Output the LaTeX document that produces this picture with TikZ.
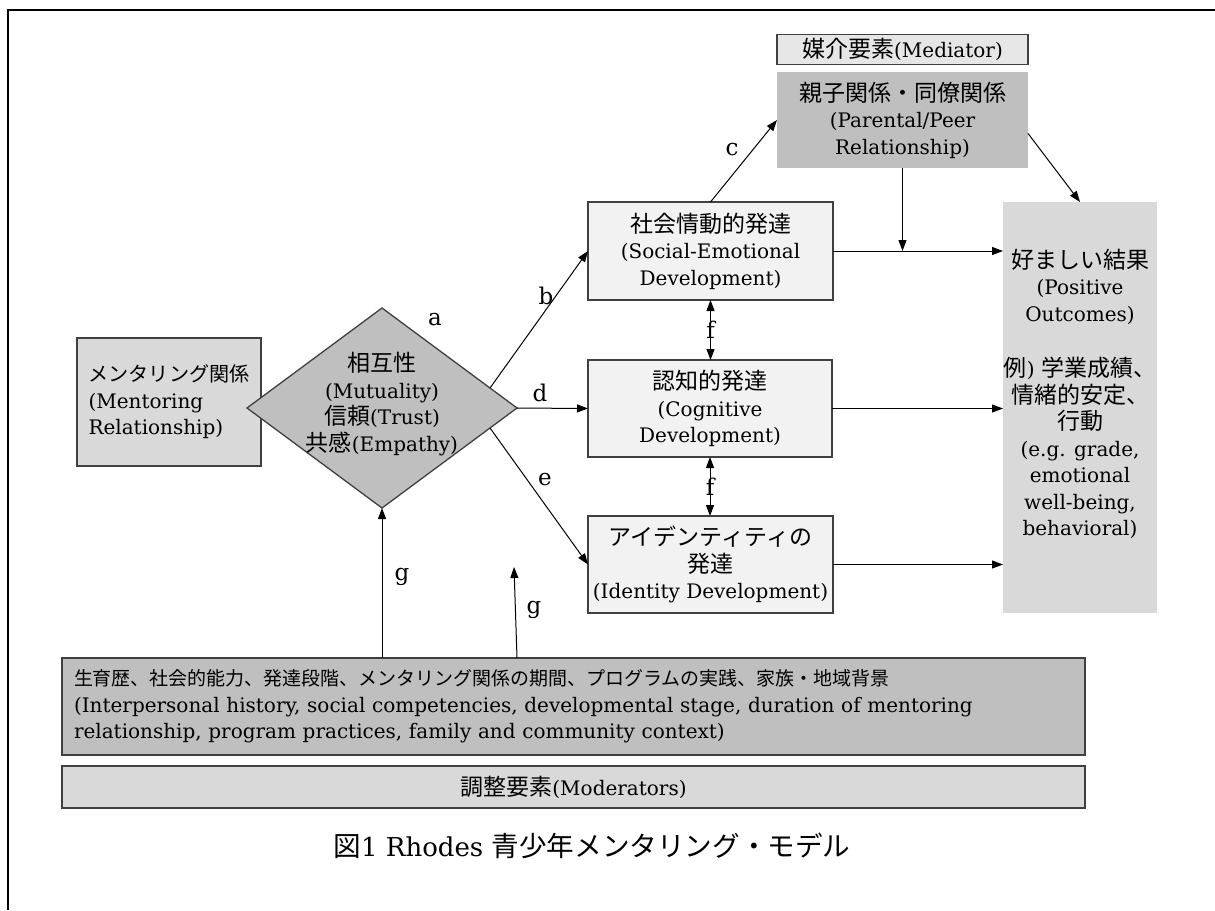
\documentclass[tikz,border=0pt]{standalone}
\usepackage{fontspec}
\setmainfont{DejaVu Serif}
\newfontfamily\jp[Scale=1.15]{Noto Sans CJK JP}
\newcommand\J[1]{{\jp #1}}
\newcommand\txt{\fontsize{20}{26.5}\selectfont}
\usetikzlibrary{shapes.geometric,arrows.meta,calc}
\definecolor{boxline}{HTML}{404040}
\definecolor{lightfill}{HTML}{F2F2F2}
\definecolor{medfill}{HTML}{E6E6E6}
\definecolor{midfill}{HTML}{D9D9D9}
\definecolor{darkfill}{HTML}{BFBFBF}
\begin{document}
\begin{tikzpicture}[x=1pt,y=-1pt,
 box/.style={draw=boxline,line width=1.3pt,inner sep=0pt,outer sep=0pt,align=center,font=\txt},
 nobox/.style={inner sep=0pt,outer sep=0pt,align=center,font=\txt},
 arr/.style={draw=black,line width=1pt,-{Triangle[length=11pt,width=8pt]}},
 darr/.style={draw=black,line width=1pt,{Triangle[length=11pt,width=8pt]}-{Triangle[length=11pt,width=8pt]}},
 lbl/.style={font=\fontsize{23}{26}\selectfont,inner sep=0pt}]
\useasboundingbox (0,0) rectangle (1215,910);
\draw[line width=2.2pt] (8,910) -- (8,10) -- (1215,10);

\node[box,fill=medfill,minimum width=251pt,minimum height=30pt] (med) at (902.5,49.5) {\J{媒介要素}(Mediator)};
\node[nobox,fill=darkfill,minimum width=251pt,minimum height=96pt] (par) at (902.5,120) {\J{親子関係・同僚関係}\\(Parental/Peer\\Relationship)};
\node[box,fill=lightfill,minimum width=245pt,minimum height=98pt] (se) at (710.5,251) {\J{社会情動的発達}\\(Social-Emotional\\Development)};
\node[box,fill=lightfill,minimum width=244pt,minimum height=97pt] (cog) at (710,408.5) {\J{認知的発達}\\(Cognitive\\Development)};
\node[box,fill=lightfill,minimum width=245pt,minimum height=97pt] (idn) at (710.5,564.5) {\J{アイデンティティの}\\\J{発達}\\(Identity Development)};
\node[nobox,fill=midfill,minimum width=154pt,minimum height=411pt] (out) at (1080,407.5) {};
\node[nobox] (outtxt) at (1080,394) {\J{好ましい結果}\\(Positive\\Outcomes)\\[29pt]\J{例}) \J{学業成績、}\\\J{情緒的安定、}\\\J{行動}\\(e.g. grade,\\emotional\\well-being,\\behavioral)};
\node[box,fill=midfill,minimum width=184pt,minimum height=128pt,align=left] (men) at (169,402) {{\fontsize{17.5}{26.5}\selectfont\J{メンタリング関係}}\\(Mentoring\\Relationship)};
\node[diamond,draw=boxline,line width=1.3pt,fill=darkfill,minimum width=270pt,minimum height=200pt,inner sep=0pt,outer sep=0pt] (dia) at (382,408) {};
\node[nobox] (diatxt) at (382,404) {\J{相互性}\\(Mutuality)\\\J{信頼}(Trust)\\\J{共感}(Empathy)};
\node[box,fill=darkfill,text width=999pt,inner xsep=12pt,minimum height=97pt,align=left] (mod) at (573.5,706.5) {{\fontsize{16.5}{26.5}\selectfont\J{生育歴、社会的能力、発達段階、メンタリング関係の期間、プログラムの実践、家族・地域背景}}\\(Interpersonal history, social competencies, developmental stage, duration of mentoring\\relationship, program practices, family and community context)};
\node[box,fill=midfill,minimum width=1023pt,minimum height=42pt] (modlbl) at (573.5,787) {\J{調整要素}(Moderators)};
\node[nobox,font=\fontsize{26}{30}\selectfont] (cap) at (592,846) {{\fontsize{24}{30}\selectfont\J{図}}1 Rhodes {\fontsize{24}{30}\selectfont\J{青少年メンタリング・モデル}}};

\coordinate (bst) at ($(dia.east)!0.2!(dia.north)$);
\coordinate (est) at ($(dia.east)!0.2!(dia.south)$);
\draw[arr] (bst) -- (se.west);
\draw[arr] (dia.east) -- (cog.west);
\draw[arr] (est) -- (idn.west);
\draw[arr] (se.north) -- (par.west);
\draw[arr] (se.east) -- (se.east -| out.west);
\coordinate (mj) at (par.south |- se.east);
\draw[arr] (par.south) -- (mj);
\draw[arr] (cog.east) -- (cog.east -| out.west);
\draw[arr] (idn.east) -- (idn.east -| out.west);
\coordinate (pst) at ($(par.north east)!0.64!(par.south east)$);
\draw[arr] (pst) -- (out.north);
\draw[darr] (se.south) -- (se.south |- cog.north) node[lbl,midway] (f1) {f};
\draw[darr] (cog.south) -- (cog.south |- idn.north) node[lbl,midway] (f2) {f};
\draw[arr] (mod.north -| dia.south) -- (dia.south);
\coordinate (g2b) at (517,658);
\coordinate (g2t) at (514,567);
\draw[arr] (g2b) -- (g2t);

\node[lbl] (la) at (435,320) {a};
\node[lbl] (lb) at (546,296) {b};
\node[lbl] (lc) at (732,150) {c};
\node[lbl] (ld) at (540,393) {d};
\node[lbl] (le) at (545,480) {e};
\node[lbl] (lg1) at (402,577) {g};
\node[lbl] (lg2) at (534,610) {g};
\end{tikzpicture}
\end{document}
